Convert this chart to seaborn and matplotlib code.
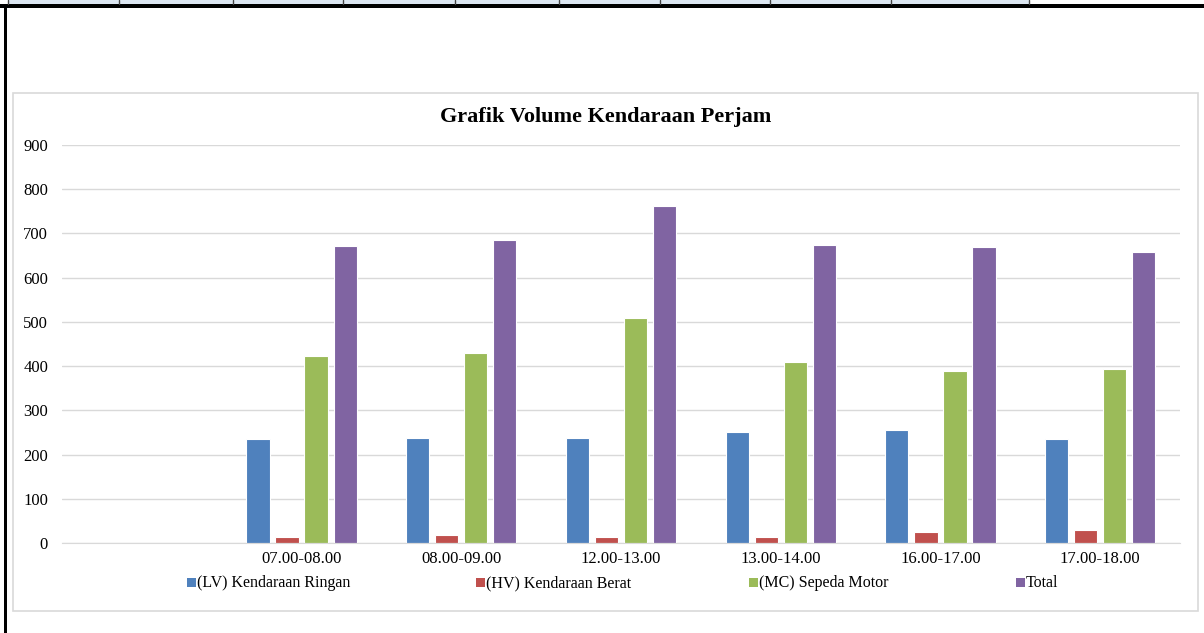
import matplotlib
matplotlib.use('Agg')
import matplotlib.pyplot as plt
from matplotlib.patches import Rectangle
from matplotlib.lines import Line2D
import pandas as pd
import seaborn as sns

# jam pengamatan (kategori pertama kosong seperti di grafik asli)
jam = ["", "07.00-08.00", "08.00-09.00", "12.00-13.00", "13.00-14.00", "16.00-17.00", "17.00-18.00"]
lv = [235, 237, 237, 251, 256, 235]
hv = [14, 18, 14, 14, 25, 29]
mc = [423, 430, 509, 409, 389, 393]
total = [672, 685, 762, 674, 670, 657]

jenis = ["(LV) Kendaraan Ringan", "(HV) Kendaraan Berat", "(MC) Sepeda Motor", "Total"]
warna = ["#4F81BD", "#C0504D", "#9BBB59", "#8064A2"]
y_ticks = [0, 100, 200, 300, 400, 500, 600, 700, 800, 900]

df = pd.DataFrame({
    'Jam': jam[1:] * 4,
    'Jenis': [j for j in jenis for _ in range(len(jam) - 1)],
    'Volume': lv + hv + mc + total,
})

sns.set_style('white')
plt.rcParams['font.family'] = ['Liberation Serif', 'DejaVu Serif']
plt.rcParams['text.color'] = 'black'
plt.rcParams['xtick.color'] = 'black'
plt.rcParams['ytick.color'] = 'black'

W, H = 1204, 633
fig = plt.figure(figsize=(W / 100, H / 100), dpi=100)

def fx(px):
    return px / W

def fy(py):
    return 1 - py / H

# tampilan lembar kerja di atas & bingkai
fig.add_artist(Rectangle((fx(8), fy(4)), fx(1029 - 8), 4 / H, transform=fig.transFigure,
                         facecolor='#dce6f1', edgecolor='none'))
for x in [8, 119, 233, 343, 455, 559, 660, 770, 891, 1029]:
    fig.add_artist(Line2D([fx(x), fx(x)], [fy(0), fy(4)], transform=fig.transFigure, color='#444444', lw=1))
fig.add_artist(Rectangle((0, fy(8)), 1, 4 / H, transform=fig.transFigure, facecolor='black', edgecolor='none'))
fig.add_artist(Rectangle((fx(4), 0), fx(3), fy(4), transform=fig.transFigure, facecolor='black', edgecolor='none'))

# area grafik
fig.add_artist(Rectangle((fx(13), fy(611)), fx(1198 - 13), (611 - 93) / H, transform=fig.transFigure,
                         fill=False, edgecolor='#d9d9d9', lw=1.2))

ax = fig.add_axes([fx(62), fy(543), fx(1180 - 62), (543 - 145) / H])
sns.barplot(data=df, x='Jam', y='Volume', hue='Jenis', order=jam, hue_order=jenis,
            palette=warna, saturation=1, width=0.727, gap=0.2,
            edgecolor='white', linewidth=0.8, ax=ax, legend=False)

ax.set_ylim(0, 900)
ax.set_yticks(y_ticks)
ax.set_xlabel('')
ax.set_ylabel('')
ax.grid(axis='y', color='#d9d9d9', lw=1)
ax.set_axisbelow(True)
for s in ['top', 'right', 'left']:
    ax.spines[s].set_visible(False)
ax.spines['bottom'].set_color('#d9d9d9')
ax.tick_params(axis='y', length=0, pad=10, labelsize=12)
ax.tick_params(axis='x', length=0, pad=6, labelsize=12)

# legenda ala Excel (kotak kecil + teks, sejajar baseline)
leg_x = [187, 476, 749, 1016]
for x0, lab, col in zip(leg_x, jenis, warna):
    fig.add_artist(Rectangle((fx(x0), fy(587)), fx(9), 9 / H, transform=fig.transFigure,
                             facecolor=col, edgecolor='none'))
    fig.text(fx(x0 + 10), fy(587), lab, ha='left', va='baseline', fontsize=11.5)

fig.text(fx(606), fy(117), 'Grafik Volume Kendaraan Perjam', ha='center', va='center',
         fontsize=16, fontweight='bold')

fig.savefig('out.png', dpi=100)
